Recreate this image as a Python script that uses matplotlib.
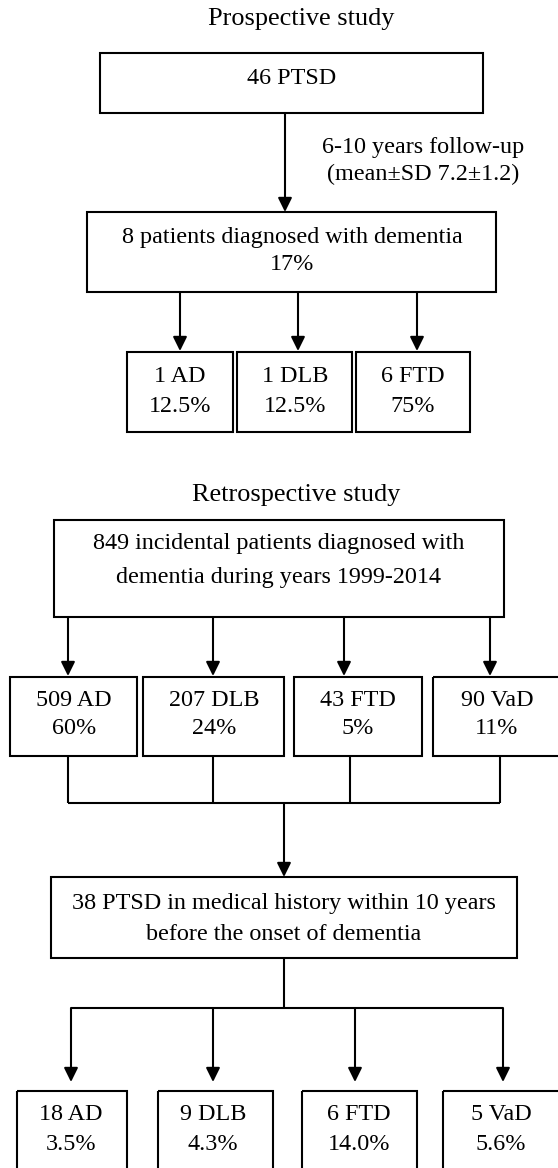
import matplotlib
matplotlib.use("Agg")
import matplotlib.pyplot as plt
import matplotlib.patches as patches

# ---- content ----
pro_title = "Prospective study"
pro_top = "46 PTSD"
pro_followup = ["6-10 years follow-up", "(mean\u00b1SD 7.2\u00b11.2)"]
pro_dementia = ["8 patients diagnosed with dementia", "17%"]
pro_types = ["AD", "DLB", "FTD"]
pro_counts = [1, 1, 6]
pro_pcts = ["12.5%", "12.5%", "75%"]

retro_title = "Retrospective study"
retro_top = ["849 incidental patients diagnosed with", "dementia during years 1999-2014"]
retro_types = ["AD", "DLB", "FTD", "VaD"]
retro_counts = [509, 207, 43, 90]
retro_pcts = ["60%", "24%", "5%", "11%"]
retro_ptsd = ["38 PTSD in medical history within 10 years", "before the onset of dementia"]
ptsd_counts = [18, 9, 6, 5]
ptsd_pcts = ["3.5%", "4.3%", "14.0%", "5.6%"]

# ---- layout (pixels, y downwards) ----
W, H = 558, 1168
FS = 17.4
FS_TITLE = 18.9
LW = 1.5

fig = plt.figure(figsize=(W / 100, H / 100), dpi=100)
ax = fig.add_axes([0, 0, 1, 1])
ax.set_xlim(0, W)
ax.set_ylim(H, 0)
ax.axis('off')


def box(x0, x1, y0, y1):
    ax.add_patch(patches.Rectangle((x0, y0), x1 - x0, y1 - y0, fill=False,
                                   edgecolor="black", linewidth=LW, clip_on=False))


def text(x, y, s, size=FS):
    ax.text(x, y, s, ha="center", va="center", family="Liberation Serif",
            fontsize=size, color="black")


def line(xs, ys):
    ax.plot(xs, ys, color="black", linewidth=LW, solid_capstyle="butt")


def arrow(x, y0, y1):
    ax.add_patch(patches.FancyArrowPatch((x, y0), (x, y1),
                                         arrowstyle="-|>,head_length=0.85,head_width=0.42",
                                         mutation_scale=10, color="black",
                                         linewidth=LW, shrinkA=0, shrinkB=0))


# Prospective study
text(301, 19, pro_title, FS_TITLE)
box(100, 483, 53, 113)
text(292, 78, pro_top)
arrow(285, 113, 212)
text(423, 147, pro_followup[0])
text(423, 174, pro_followup[1])
box(87, 496, 212, 292)
text(292, 237, pro_dementia[0])
text(292, 265, pro_dementia[1])

pro_arrow_x = [180, 298, 417]
pro_box_x = [(127, 233), (237, 352), (356, 470)]
pro_text_x = [180, 295, 413]
for i, t in enumerate(pro_types):
    arrow(pro_arrow_x[i], 292, 351)
    box(pro_box_x[i][0], pro_box_x[i][1], 352, 432)
    text(pro_text_x[i], 377, f"{pro_counts[i]} {t}")
    text(pro_text_x[i], 407, pro_pcts[i])

# Retrospective study
text(296, 495, retro_title, FS_TITLE)
box(54, 504, 520, 617)
text(279, 544, retro_top[0])
text(279, 577, retro_top[1])

retro_arrow_x = [68, 213, 344, 490]
retro_box_x = [(10, 137), (143, 284), (294, 422), (433, 562)]
retro_text_x = [74, 214, 358, 497]
retro_down_x = [68, 213, 350, 500]
for i, t in enumerate(retro_types):
    arrow(retro_arrow_x[i], 617, 676)
    box(retro_box_x[i][0], retro_box_x[i][1], 677, 756)
    text(retro_text_x[i], 701, f"{retro_counts[i]} {t}")
    text(retro_text_x[i], 729, retro_pcts[i])
    line([retro_down_x[i], retro_down_x[i]], [756, 803])
line([retro_down_x[0], retro_down_x[-1]], [803, 803])
arrow(284, 803, 877)

box(51, 517, 877, 958)
text(284, 903, retro_ptsd[0])
text(284, 934, retro_ptsd[1])
line([284, 284], [958, 1008])

ptsd_arrow_x = [71, 213, 355, 503]
ptsd_box_x = [(17, 127), (158, 273), (302, 417), (443, 566)]
ptsd_text_x = [71, 213, 359, 501]
line([ptsd_arrow_x[0], ptsd_arrow_x[-1]], [1008, 1008])
for i, t in enumerate(retro_types):
    arrow(ptsd_arrow_x[i], 1008, 1082)
    box(ptsd_box_x[i][0], ptsd_box_x[i][1], 1091, 1200)
    text(ptsd_text_x[i], 1115, f"{ptsd_counts[i]} {t}")
    text(ptsd_text_x[i], 1145, ptsd_pcts[i])

fig.savefig("out.png", dpi=100, facecolor="white")
